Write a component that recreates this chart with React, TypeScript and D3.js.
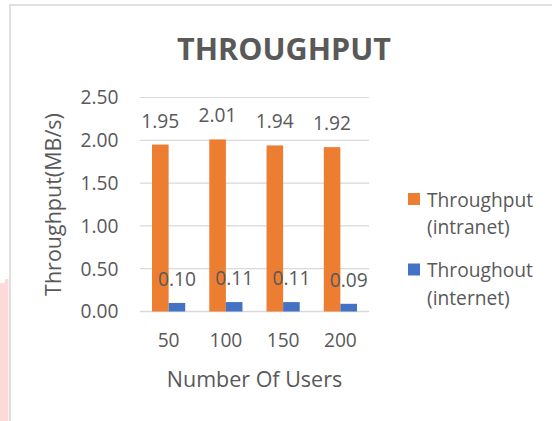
import React from "react";
import * as d3 from "d3";

const categories = ["50", "100", "150", "200"];
const intranet = [1.95, 2.01, 1.94, 1.92];
const internet = [0.1, 0.11, 0.11, 0.09];
const seriesKeys = ["intranet", "internet"];
const seriesColors = ["#ED7D31", "#4472C4"];
const legendLines = [
  ["Throughput", "(intranet)"],
  ["Throughout", "(internet)"],
];
const yTicks = [0, 0.5, 1, 1.5, 2, 2.5];
const titleText = "THROUGHPUT";
const xTitle = "Number Of Users";
const yTitle = "Throughput(MB/s)";

const FONT = "'Open Sans', Lato, sans-serif";
const TEXT = "#595959";
const GRID = "#D9D9D9";
const FS = 19.2;
const FS_AXIS = 21.5;

export default function App() {
  const W = 552;
  const H = 421;
  const x = d3
    .scaleBand<string>()
    .domain(categories)
    .range([140, 369])
    .paddingInner(0.42)
    .paddingOuter(0.21);
  const xs = d3.scaleBand<string>().domain(seriesKeys).range([0, x.bandwidth()]);
  const y = d3.scaleLinear().domain([0, 2.5]).range([311.5, 97.5]);
  const fmt = d3.format(".2f");
  const series = [intranet, internet];

  return (
    <svg
      width={W}
      height={H}
      style={{ position: "absolute", left: 0, top: 0, display: "block", background: "#fff" }}
      fontFamily={FONT}
    >
      <rect x={0} y={0} width={W} height={H} fill="#fff" />
      {/* watermark strip */}
      <path d="M0,283 L5,283 L5,279 L8.5,279 L8.5,421 L0,421 Z" fill="#FFD9D9" />
      {/* chart frame */}
      <rect x={10} y={5} width={700} height={600} fill="none" stroke={GRID} strokeWidth={1.6} />

      <text x={284} y={60} textAnchor="middle" fontSize={30.5} fontWeight="bold" fill={TEXT}>
        {titleText}
      </text>

      {/* gridlines */}
      {yTicks.map((t) => (
        <line
          key={"g" + t}
          x1={140}
          x2={369}
          y1={y(t)}
          y2={y(t)}
          stroke={GRID}
          strokeWidth={t === 0 ? 1.5 : 1.2}
        />
      ))}
      {yTicks.map((t) => (
        <text
          key={"t" + t}
          x={118.5}
          y={y(t)}
          dy="0.36em"
          textAnchor="end"
          fontSize={FS}
          fill={TEXT}
        >
          {fmt(t)}
        </text>
      ))}

      {/* bars */}
      {series.map((vals, si) =>
        vals.map((v, i) => {
          const bx = (x(categories[i]) as number) + (xs(seriesKeys[si]) as number);
          return (
            <g key={si + "-" + i}>
              <rect
                x={bx}
                y={y(v)}
                width={xs.bandwidth()}
                height={y(0) - y(v)}
                fill={seriesColors[si]}
              />
              <text
                x={bx + xs.bandwidth() / 2}
                y={y(v) - 17}
                textAnchor="middle"
                fontSize={FS}
                fill={TEXT}
              >
                {fmt(v)}
              </text>
            </g>
          );
        })
      )}

      {/* category labels */}
      {categories.map((c) => (
        <text
          key={"c" + c}
          x={(x(c) as number) + x.bandwidth() / 2}
          y={347}
          textAnchor="middle"
          fontSize={FS}
          fill={TEXT}
        >
          {c}
        </text>
      ))}

      <text x={254.5} y={387} textAnchor="middle" fontSize={FS_AXIS} fill={TEXT}>
        {xTitle}
      </text>
      <text
        transform={`translate(61,${(y(0) + y(2.5)) / 2}) rotate(-90)`}
        textAnchor="middle"
        fontSize={FS_AXIS}
        fill={TEXT}
      >
        {yTitle}
      </text>

      {/* legend */}
      {legendLines.map((lines, li) => {
        const top = 193 + li * 70.5;
        return (
          <g key={"l" + li}>
            <rect x={408} y={top} width={12} height={12} fill={seriesColors[li]} />
            {lines.map((ln, k) => (
              <text key={k} x={427} y={top + 13.5 + k * 27.5} fontSize={FS} fill={TEXT}>
                {ln}
              </text>
            ))}
          </g>
        );
      })}
    </svg>
  );
}
